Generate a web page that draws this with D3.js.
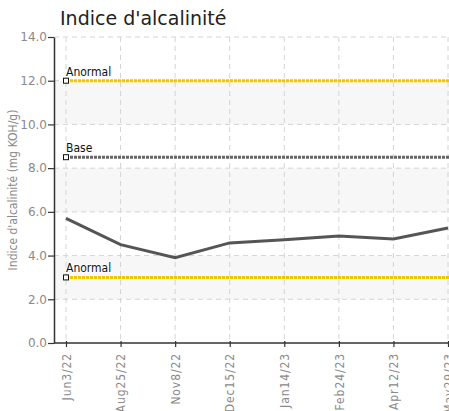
<!DOCTYPE html>
<html>
<head>
<meta charset="utf-8">
<script src="https://cdn.jsdelivr.net/npm/d3@7"></script>
<style>
body { margin: 0; background: #fff; }
svg { display: block; }
</style>
</head>
<body>
<svg id="svg" width="449" height="411"></svg>
<script>
var dates = ['Jun3/22', 'Aug25/22', 'Nov8/22', 'Dec15/22', 'Jan14/23', 'Feb24/23', 'Apr12/23', 'May29/23'];
var values = [5.7, 4.5, 3.9, 4.58, 4.72, 4.9, 4.76, 5.26];
var yTicks = [0, 2, 4, 6, 8, 10, 12, 14];
var refNames = ['Anormal', 'Base', 'Anormal'];
var refValues = [12, 8.5, 3];
var refColors = ['#f5c400', '#666666', '#f5c400'];

var width = 449, height = 411;
var marginLeft = 54, marginTop = 37, marginRight = 1, marginBottom = 68;
var narrow = '"DejaVu Sans Condensed", "Liberation Sans Narrow", sans-serif';
var wide = '"DejaVu Sans", sans-serif';

var svg = d3.select('svg');

svg.append('text')
    .attr('x', 60)
    .attr('y', 25)
    .attr('font-family', wide)
    .attr('font-size', 19)
    .attr('fill', '#222')
    .text("Indice d'alcalinité");

var x = d3.scalePoint()
    .domain(dates)
    .range([66, width - marginRight]);

var y = d3.scaleLinear()
    .domain([0, 14])
    .range([height - marginBottom, marginTop]);

var g = svg.append('g');

// alternating bands
g.selectAll('rect.band')
    .data([2, 6, 10])
    .enter()
    .append('rect')
    .attr('x', marginLeft)
    .attr('width', width - marginLeft)
    .attr('y', function(d){ return y(d + 2); })
    .attr('height', function(d){ return y(d) - y(d + 2); })
    .attr('fill', '#f7f7f7');

// grid
g.selectAll('line.hgrid')
    .data(yTicks.slice(1))
    .enter()
    .append('line')
    .attr('x1', marginLeft).attr('x2', width)
    .attr('y1', function(d){ return y(d); })
    .attr('y2', function(d){ return y(d); })
    .attr('stroke', '#d4d4d4')
    .attr('stroke-dasharray', '5,4');

g.selectAll('line.vgrid')
    .data(dates)
    .enter()
    .append('line')
    .attr('x1', function(d){ return x(d); })
    .attr('x2', function(d){ return x(d); })
    .attr('y1', y(14)).attr('y2', y(0))
    .attr('stroke', '#d4d4d4')
    .attr('stroke-dasharray', '5,4');

// reference lines
var refs = refNames.map(function(n, i){ return {name: n, v: refValues[i], c: refColors[i]}; });

g.selectAll('line.ref')
    .data(refs)
    .enter()
    .append('line')
    .attr('x1', x(dates[0])).attr('x2', width)
    .attr('y1', function(d){ return y(d.v); })
    .attr('y2', function(d){ return y(d.v); })
    .attr('stroke', function(d){ return d.c; })
    .attr('stroke-width', 3)
    .attr('stroke-dasharray', '3,1');

// data line
var line = d3.line()
    .x(function(d, i){ return x(dates[i]); })
    .y(function(d){ return y(d); });

g.append('path')
    .datum(values)
    .attr('d', line)
    .attr('fill', 'none')
    .attr('stroke', '#555')
    .attr('stroke-width', 3);

// ref markers + labels
g.selectAll('rect.mark')
    .data(refs)
    .enter()
    .append('rect')
    .attr('x', x(dates[0]) - 2.5)
    .attr('y', function(d){ return y(d.v) - 2.5; })
    .attr('width', 5).attr('height', 5)
    .attr('fill', '#fff')
    .attr('stroke', '#111')
    .attr('stroke-width', 1);

g.selectAll('text.reflabel')
    .data(refs)
    .enter()
    .append('text')
    .attr('x', x(dates[0]))
    .attr('y', function(d){ return y(d.v) - 5; })
    .attr('font-family', narrow)
    .attr('font-size', 12)
    .attr('fill', '#111')
    .attr('stroke', '#fff')
    .attr('stroke-width', 2)
    .attr('paint-order', 'stroke')
    .text(function(d){ return d.name; });

// axes
var yAxis = svg.append('g')
    .attr('transform', 'translate(' + marginLeft + ',0)')
    .call(d3.axisLeft(y).tickValues(yTicks).tickFormat(d3.format('.1f')).tickSize(6).tickSizeOuter(0));

var xAxis = svg.append('g')
    .attr('transform', 'translate(0,' + y(0) + ')')
    .call(d3.axisBottom(x).tickSize(4).tickSizeOuter(0));

xAxis.select('.domain').attr('d', 'M' + marginLeft + ',0H' + width);

[yAxis, xAxis].forEach(function(a){
    a.select('.domain').attr('stroke', '#333').attr('stroke-width', 1.5);
    a.selectAll('.tick line').attr('stroke', '#333').attr('stroke-width', 1.2);
    a.selectAll('text')
        .attr('font-size', 12)
        .attr('fill', '#8a8a8a');
});

yAxis.selectAll('text').attr('x', -7).attr('font-family', wide);

xAxis.selectAll('.tick line').attr('y1', -2).attr('y2', 4);

xAxis.selectAll('text')
    .attr('font-family', narrow)
    .attr('transform', 'rotate(-90)')
    .attr('text-anchor', 'end')
    .attr('letter-spacing', 0.9)
    .attr('x', -10)
    .attr('y', 0)
    .attr('dy', '0.35em');

svg.append('text')
    .attr('transform', 'translate(17,' + ((y(0) + y(14)) / 2) + ') rotate(-90)')
    .attr('text-anchor', 'middle')
    .attr('font-family', narrow)
    .attr('font-size', 12)
    .attr('fill', '#8a8a8a')
    .text("Indice d'alcalinité (mg KOH/g)");
</script>
</body>
</html>
